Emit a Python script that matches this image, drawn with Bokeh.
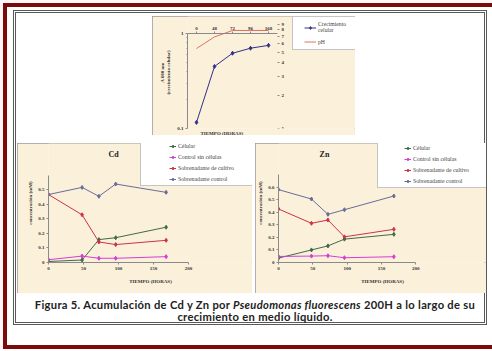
from bokeh.plotting import figure
from bokeh.models import (Range1d, LinearAxis, FixedTicker, NumeralTickFormatter, Legend, LegendItem,
                          Title, Label, Div, SingleIntervalTicker, Spacer)
from bokeh.layouts import column, row
from bokeh.embed import file_html
from bokeh.resources import INLINE

# ---------------- data ----------------
# top chart: growth (A 600 nm, log) and pH per sampling time
hours_lbl = ["0", "48", "72", "96", "168"]
a600 = [0.116, 0.45, 0.62, 0.70, 0.75]
ph = [5.4, 6.9, 7.9, 7.9, 7.9]

# bottom charts: concentration (mM) vs time (hours)
hours = [0, 48, 72, 96, 168]
series_names = ["Célular", "Control sin células", "Sobrenadante de cultivo", "Sobrenadante control"]

cd_celular = [0.007, 0.017, 0.157, 0.170, 0.242]
cd_control_sin = [0.019, 0.044, 0.029, 0.029, 0.040]
cd_sob_cultivo = [0.466, 0.327, 0.141, 0.123, 0.152]
cd_sob_control = [0.466, 0.515, 0.454, 0.538, 0.481]

zn_celular = [0.035, 0.100, 0.132, 0.186, 0.224]
zn_control_sin = [0.048, 0.051, 0.054, 0.038, 0.046]
zn_sob_cultivo = [0.426, 0.312, 0.338, 0.204, 0.264]
zn_sob_control = [0.580, 0.505, 0.383, 0.420, 0.529]

caption_html = ('Figura 5. Acumulación de Cd y Zn por <i>Pseudomonas fluorescens</i> 200H a lo largo de su'
                '<br>crecimiento en medio líquido.')

# ---------------- styles ----------------
SERIF = "Liberation Serif"
BEIGE = "#fbf0da"
AXIS = "#8a8a8a"
NAVY = "#30308a"
SALMON = "#e07068"
COLORS = ["#3f6b48", "#d63cd6", "#cc3344", "#676c9a"]
BOX_STYLE = {"outline": "1px solid #9a9a9a", "outline-offset": "-1px"}
BLANK = "\u00a0"


def style_axis(ax, size="5px"):
    ax.axis_line_color = AXIS
    ax.major_tick_line_color = AXIS
    ax.minor_tick_line_color = None
    ax.major_tick_in = 0
    ax.major_tick_out = 2
    ax.major_label_text_font = SERIF
    ax.major_label_text_font_size = size
    ax.major_label_text_font_style = "bold"
    ax.major_label_text_color = "#333333"
    ax.axis_label_text_font = SERIF
    ax.axis_label_text_font_size = size
    ax.axis_label_text_font_style = "bold"
    ax.axis_label_text_color = "#333333"
    ax.major_label_standoff = 2
    ax.axis_label_standoff = 3


# ---------------- top chart ----------------
idx = list(range(len(hours_lbl)))
top = figure(width=203, height=119, x_range=Range1d(-0.5, 8.83), y_axis_type="log",
             y_range=Range1d(0.1, 1.51), x_axis_location="above", output_backend="svg",
             toolbar_location=None, min_border_left=35, min_border_right=0,
             min_border_top=0, min_border_bottom=7,
             background_fill_color=BEIGE, border_fill_color=BEIGE, outline_line_color=None,
             styles=BOX_STYLE)
top.grid.visible = False
top.extra_y_ranges = {"ph": Range1d(0, 10.61)}

yl = top.yaxis[0]
yl.ticker = FixedTicker(ticks=[0.1, 1], minor_ticks=[0.2, 0.3, 0.4, 0.5, 0.6, 0.7, 0.8, 0.9])
yl.formatter = NumeralTickFormatter(format="0.[0]")
yl.bounds = (0.1, 1)
style_axis(yl)
yl.minor_tick_line_color = AXIS
yl.minor_tick_out = 1
yl.minor_tick_in = 0
yl.axis_label = "A 600 nm\n(crecimiento celular)"

yr = LinearAxis(y_range_name="ph", ticker=SingleIntervalTicker(interval=1, num_minor_ticks=0),
                axis_label="pH", fixed_location=4.5, bounds=(0, 9))
style_axis(yr)
top.add_layout(yr, "right")

xa = top.xaxis[0]
xa.ticker = FixedTicker(ticks=idx)
xa.major_label_overrides = {i: s for i, s in zip(idx, hours_lbl)}
xa.fixed_location = 1
xa.bounds = (-0.5, 4.5)
style_axis(xa)

top.add_layout(Title(text="TIEMPO (HORAS)", align="left", offset=13, text_font_size="5px",
                     text_font=SERIF, text_font_style="bold", text_color="#333333", standoff=0), "below")

g_line = top.line(idx, a600, color=NAVY, line_width=1)
g_pts = top.scatter(idx, a600, marker="diamond", size=4, color=NAVY)
p_line = top.line(idx, ph, color=SALMON, line_width=1, y_range_name="ph")

top_leg = Legend(items=[LegendItem(label="Crecimiento\ncelular", renderers=[g_line, g_pts]),
                        LegendItem(label="pH", renderers=[p_line])],
                 location=(105, 78), padding=4, spacing=5, glyph_width=12, glyph_height=7,
                 label_height=7, label_standoff=2, label_width=34,
                 title=BLANK, title_location="left", title_text_font_size="6px", title_standoff=1,
                 label_text_font=SERIF, label_text_font_size="5.7px",
                 border_line_color="#8a8a8a", background_fill_color="white", background_fill_alpha=1)
top.add_layout(top_leg, "center")


# ---------------- concentration charts ----------------
def conc_fig(title, tx, ty, ymax, ytop, xtop, width, mbl, mbb, data, leg_xy, leg_title_size, leg_lw):
    p = figure(width=width, height=150, x_range=Range1d(0, xtop), y_range=Range1d(0, ytop),
               output_backend="svg", toolbar_location=None,
               min_border_left=mbl, min_border_right=0, min_border_top=0, min_border_bottom=mbb,
               background_fill_color=BEIGE, border_fill_color=BEIGE, outline_line_color=None,
               styles=BOX_STYLE)
    p.grid.visible = False
    p.xaxis.ticker = SingleIntervalTicker(interval=50, num_minor_ticks=0)
    p.yaxis.ticker = SingleIntervalTicker(interval=0.1, num_minor_ticks=0)
    p.yaxis.formatter = NumeralTickFormatter(format="0.[0]")
    p.xaxis.bounds = (0, 200)
    p.yaxis.bounds = (0, ymax)
    style_axis(p.xaxis[0])
    style_axis(p.yaxis[0])
    p.xaxis.axis_label = "TIEMPO (HORAS)"
    p.xaxis.axis_label_standoff = 6
    p.yaxis.axis_label = "concentración (mM)"
    p.yaxis.axis_label_standoff = 2

    items = []
    for name, vals, col in zip(series_names, data, COLORS):
        ln = p.line(hours, vals, color=col, line_width=1)
        pts = p.scatter(hours, vals, marker="diamond", size=4, color=col)
        items.append(LegendItem(label=name, renderers=[ln, pts]))

    leg = Legend(items=items, location=leg_xy, padding=2, spacing=3, glyph_width=7,
                 glyph_height=8, label_height=8, label_standoff=2, label_width=leg_lw,
                 title=BLANK, title_location="left", title_text_font_size=leg_title_size,
                 title_standoff=3,
                 label_text_font=SERIF, label_text_font_size="5.8px",
                 border_line_color="#8a8a8a", background_fill_color="white", background_fill_alpha=1)
    p.add_layout(leg, "center")

    p.add_layout(Label(x=tx, y=ty, text=title, text_align="center", text_baseline="middle",
                       text_font=SERIF, text_font_style="bold", text_font_size="8px",
                       text_color="#222222"))
    return p


cd = conc_fig("Cd", 93, 0.742, 0.6, 0.816, 291.4, 235, 31, 29,
              [cd_celular, cd_control_sin, cd_sob_cultivo, cd_sob_control],
              (92, 76), "20px", 73)
zn = conc_fig("Zn", 67, 0.859, 0.7, 0.947, 302.9, 231, 19, 31,
              [zn_celular, zn_control_sin, zn_sob_cultivo, zn_sob_control],
              (99, 74), "18px", 74)

caption = Div(text=caption_html, width=474, height=26,
              styles={"font-family": "Lato", "font-weight": "bold", "font-size": "11.2px",
                      "letter-spacing": "0.3px",
                      "line-height": "12px", "text-align": "center", "color": "#222222"})

white_box = column(Spacer(width=474, height=6),
                   row(Spacer(width=139, height=119), top),
                   Spacer(width=474, height=8),
                   row(Spacer(width=4, height=150), cd, Spacer(width=3, height=150), zn),
                   Spacer(width=474, height=1),
                   caption,
                   width=474, height=315,
                   styles={"outline": "3px double #5a5a5a", "outline-offset": "-3px",
                           "background-color": "white"})

frame_box = column(Spacer(width=489, height=7),
                   row(Spacer(width=10, height=315), white_box),
                   width=489, height=346,
                   styles={"background-color": "white",
                           "box-shadow": "inset 4px 4px 0 0 #7b0a0a, inset 0 -4px 0 0 #7b0a0a"})

root = column(Spacer(width=492, height=3),
              row(Spacer(width=3, height=346), frame_box),
              width=492, height=350, styles={"background-color": "#fdf7f7"})

open("out.html", "w").write(file_html(root, INLINE))
